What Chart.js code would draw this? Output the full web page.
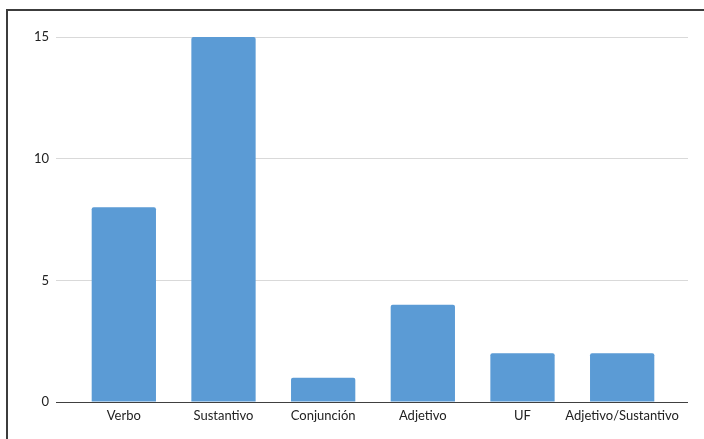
<!DOCTYPE html>
<html>
<head>
<meta charset="utf-8">
<script src="https://cdn.jsdelivr.net/npm/chart.js@4.4.1/dist/chart.umd.min.js"></script>
<style>
  html, body { margin: 0; padding: 0; background: #fff; }
  #wrap { position: relative; width: 704px; height: 439px; overflow: hidden; }
  #frame { position: absolute; left: 6px; top: 9px; width: 720px; height: 460px;
           border-top: 2px solid #3c3c3c; border-left: 2px solid #3c3c3c; box-sizing: border-box; }
  canvas { position: absolute; left: 0; top: 0; }
</style>
</head>
<body>
<div id="wrap">
  <canvas id="c" width="704" height="439"></canvas>
  <div id="frame"></div>
</div>
<script>
const categories = ["Verbo", "Sustantivo", "Conjunción", "Adjetivo", "UF", "Adjetivo/Sustantivo"];
const values = [8, 15, 1, 4, 2, 2];
const yTicks = [0, 5, 10, 15];

const FONT = { family: "Lato, 'Open Sans', sans-serif", size: 13 };
const lineColor = (ctx) => (ctx.tick && ctx.tick.value === 0) ? '#404040' : '#d9d9d9';

new Chart(document.getElementById('c'), {
  type: 'bar',
  data: {
    labels: categories,
    datasets: [{
      data: values,
      backgroundColor: '#5b9bd5',
      borderRadius: 2,
      barPercentage: 0.645,
      categoryPercentage: 1.0
    }]
  },
  options: {
    responsive: false,
    animation: false,
    devicePixelRatio: 1,
    layout: { padding: { left: 8, right: 16, top: 37, bottom: 7 } },
    plugins: { legend: { display: false }, tooltip: { enabled: false } },
    scales: {
      x: {
        grid: { display: false },
        border: { display: false },
        ticks: { color: '#222', font: FONT, padding: -2, maxRotation: 0, autoSkip: false },
        afterFit: (s) => { s.height = 30; }
      },
      y: {
        min: 0, max: 15,
        afterBuildTicks: (s) => { s.ticks = yTicks.map(v => ({ value: v })); },
        grid: { color: lineColor, tickColor: lineColor, tickLength: 18, lineWidth: 1 },
        border: { display: false },
        ticks: { color: '#222', font: FONT, padding: 7 },
        afterFit: (s) => { s.width = 66; }
      },
      y2: {
        position: 'right',
        min: 0, max: 15,
        afterBuildTicks: (s) => { s.ticks = yTicks.map(v => ({ value: v })); },
        grid: { drawOnChartArea: false, color: lineColor, tickColor: lineColor, tickLength: 16, lineWidth: 1 },
        border: { display: false },
        ticks: { display: false },
        afterFit: (s) => { s.width = 16; }
      }
    }
  }
});
</script>
</body>
</html>
